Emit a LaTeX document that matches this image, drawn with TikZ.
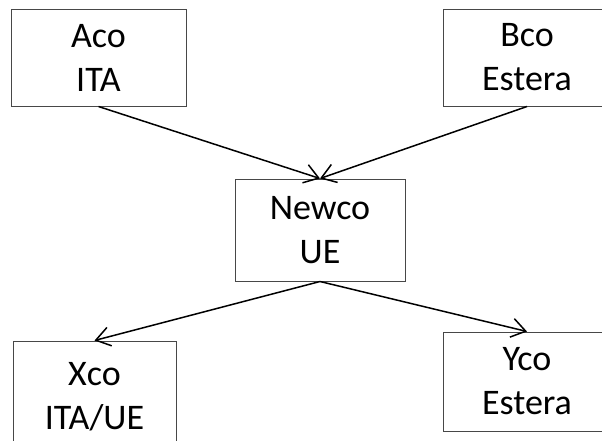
\documentclass[tikz,border=0pt]{standalone}
\usepackage{fontspec}
\setmainfont{Carlito}
\usetikzlibrary{arrows.meta}
\begin{document}
\begin{tikzpicture}[x=1pt,y=-1pt,
  box/.style={draw=black!72, line width=1pt, align=center, inner sep=0pt,
    font=\fontsize{36}{44}\selectfont},
  link/.style={draw=black, line width=1.5pt, -{Straight Barb[length=14pt,width=19pt,line width=1.5pt]}}]
\clip (0,0) rectangle (602,440);
\node[box, minimum width=175pt, minimum height=97pt] (aco) at (98.5,57.5) {Aco\\ITA};
\node[box, minimum width=168pt, minimum height=97pt] (bco) at (527,57.5) {Bco\\Estera};
\node[box, minimum width=170pt, minimum height=102pt] (newco) at (320,230) {Newco\\UE};
\node[box, minimum width=163pt, minimum height=112pt] (xco) at (94.5,397) {Xco\\ITA/UE};
\node[box, minimum width=168pt, minimum height=99pt] (yco) at (527,381.5) {Yco\\Estera};
\draw[link] (aco.south) -- (newco.north);
\draw[link] (bco.south) -- (newco.north);
\draw[link] (newco.south) -- (xco.north);
\draw[link] (newco.south) -- (yco.north);
\end{tikzpicture}
\end{document}
